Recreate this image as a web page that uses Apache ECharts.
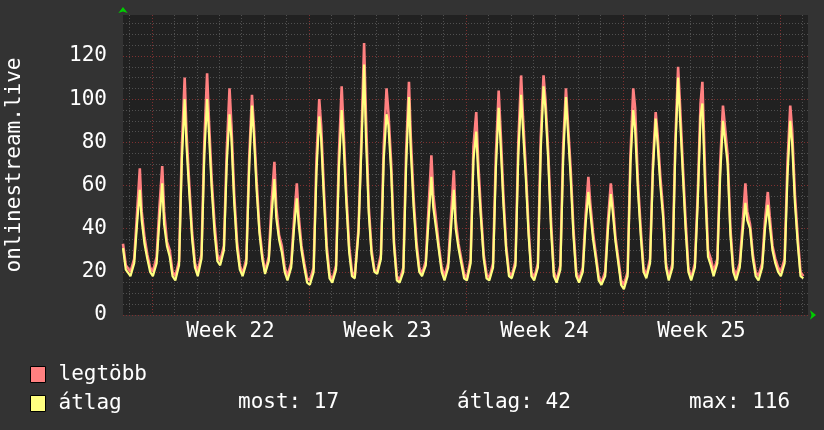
<!DOCTYPE html>
<html lang="hu">
<head>
<meta charset="UTF-8"/>
<title>onlinestream.live</title>
<script src="https://cdn.jsdelivr.net/npm/echarts@6/dist/echarts.min.js"></script>
<style>
    html, body { margin: 0; padding: 0; background: #333333; }
    #main { width: 824px; height: 430px; }
</style>
</head>
<body>
<div id="main"></div>
<script type="text/javascript">
// hours (after each day gridline) at which the values were read
var sampleHours = [1, 5, 8, 11, 13, 16, 19, 22];
// the part before the first day line
var leadHours = [-7, -4];
var leadMax = [33, 23];
var leadAvg = [31, 21];

// legtöbb, one row per day
var maxDays = [
    [20, 26, 47, 68, 48, 36, 28, 22],
    [20, 27, 50, 69, 48, 34, 30, 20],
    [18, 25, 78, 110, 84, 60, 38, 24],
    [20, 28, 80, 112, 90, 62, 42, 28],
    [25, 32, 76, 105, 88, 56, 34, 23],
    [19, 26, 72, 102, 88, 62, 40, 28],
    [20, 27, 52, 71, 50, 37, 32, 22],
    [18, 24, 44, 61, 46, 32, 24, 17],
    [16, 22, 72, 100, 88, 58, 32, 19],
    [16, 23, 74, 106, 86, 56, 32, 20],
    [18, 40, 80, 126, 92, 50, 30, 21],
    [20, 28, 78, 105, 94, 70, 34, 18],
    [16, 22, 76, 108, 82, 54, 34, 22],
    [19, 25, 50, 74, 56, 44, 32, 22],
    [18, 24, 46, 67, 44, 33, 26, 19],
    [17, 26, 78, 94, 72, 48, 28, 19],
    [17, 24, 74, 104, 86, 56, 32, 20],
    [18, 25, 80, 111, 92, 68, 40, 20],
    [17, 24, 82, 111, 100, 76, 44, 20],
    [16, 23, 78, 105, 90, 68, 40, 20],
    [16, 22, 46, 64, 52, 38, 28, 18],
    [15, 20, 44, 61, 52, 36, 26, 16],
    [14, 20, 74, 105, 96, 62, 40, 22],
    [18, 26, 70, 94, 84, 64, 48, 24],
    [17, 24, 80, 115, 98, 70, 44, 22],
    [17, 24, 56, 98, 108, 64, 30, 26],
    [20, 26, 70, 97, 88, 74, 40, 22],
    [18, 24, 42, 61, 48, 42, 28, 20],
    [18, 24, 44, 57, 46, 32, 26, 22],
    [20, 26, 70, 97, 86, 56, 36, 20],
    [18]
];

// átlag, one row per day
var avgDays = [
    [18, 24, 42, 58, 44, 33, 26, 20],
    [18, 24, 44, 61, 42, 32, 27, 18],
    [16, 23, 72, 100, 78, 56, 35, 22],
    [18, 26, 74, 100, 84, 58, 38, 25],
    [23, 30, 70, 93, 82, 52, 31, 21],
    [18, 24, 68, 97, 84, 58, 38, 26],
    [19, 25, 46, 63, 45, 35, 29, 20],
    [16, 22, 40, 54, 42, 30, 22, 15],
    [14, 20, 66, 92, 82, 54, 29, 17],
    [15, 21, 68, 95, 80, 52, 29, 18],
    [17, 38, 76, 116, 82, 47, 28, 20],
    [19, 26, 72, 93, 88, 66, 32, 16],
    [15, 20, 70, 101, 76, 50, 31, 20],
    [18, 23, 44, 64, 50, 40, 30, 20],
    [16, 22, 40, 58, 40, 31, 24, 17],
    [16, 24, 72, 85, 66, 45, 26, 17],
    [16, 22, 68, 96, 80, 52, 30, 18],
    [17, 23, 74, 102, 86, 64, 37, 18],
    [16, 22, 76, 106, 96, 72, 40, 18],
    [15, 21, 72, 101, 86, 64, 37, 18],
    [15, 20, 42, 57, 48, 35, 26, 16],
    [14, 18, 40, 56, 48, 34, 24, 14],
    [12, 18, 70, 95, 86, 58, 37, 20],
    [17, 24, 66, 91, 80, 60, 45, 22],
    [16, 22, 76, 110, 92, 66, 40, 20],
    [16, 22, 52, 92, 98, 58, 27, 23],
    [18, 24, 64, 90, 82, 70, 37, 20],
    [16, 22, 38, 52, 44, 40, 26, 18],
    [16, 22, 40, 51, 42, 30, 24, 20],
    [18, 24, 64, 90, 80, 52, 33, 18],
    [17]
];

var weekNames = ['Week 22', 'Week 23', 'Week 24', 'Week 25'];
var stats = ['most: 17', 'átlag: 42', 'max: 116'];
var statsLeft = [233, 452, 684];

var firstHour = -7, lastHour = 726;
var weekLabelHour = 108;   // middle of the first full week

// hourly categories
var hours = [];
for (var h = firstHour; h <= lastHour; h++) hours.push(String(h));

function buildSeries(lead, days) {
    var out = [];
    for (var i = 0; i < leadHours.length; i++) {
        out.push([leadHours[i] - firstHour, lead[i]]);
    }
    for (var d = 0; d < days.length; d++) {
        for (var j = 0; j < days[d].length; j++) {
            out.push([d * 24 + sampleHours[j] - firstHour, days[d][j]]);
        }
    }
    return out;
}

var FONT = "'DejaVu Sans Mono', monospace";
var GRAY = '#505050', RED = '#7e3030';

var myChart = echarts.init(document.getElementById('main'));

var option = {
    backgroundColor: '#333333',
    animation: false,
    grid: {
        left: 123, right: 16, top: 15, bottom: 115,
        outerBoundsMode: 'none',
        show: true, backgroundColor: '#212121', borderWidth: 0
    },
    title: stats.map(function (s, i) {
        return {
            text: s, left: statsLeft[i], top: 387,
            textStyle: { color: '#ffffff', fontFamily: FONT, fontSize: 21, fontWeight: 'normal' }
        };
    }),
    legend: {
        data: ['legtöbb', 'átlag'],
        orient: 'vertical',
        left: 25, top: 359,
        icon: 'rect',
        itemWidth: 15, itemHeight: 16, itemGap: 8,
        itemStyle: { borderColor: '#000000', borderWidth: 1 },
        textStyle: { color: '#ffffff', fontFamily: FONT, fontSize: 21, padding: [0, 0, 0, 8] },
        selectedMode: false
    },
    xAxis: {
        type: 'category',
        data: hours,
        boundaryGap: false,
        axisLine: {
            show: true,
            symbol: ['none', 'arrow'], symbolSize: [7, 6], symbolOffset: [0, 8],
            lineStyle: { color: '#00cc00', width: 0 }
        },
        axisTick: { show: false },
        axisLabel: {
            interval: function (idx, val) {
                var n = Number(val) - weekLabelHour;
                return n >= 0 && n % 168 === 0;
            },
            formatter: function (val) {
                return weekNames[(Number(val) - weekLabelHour) / 168];
            },
            color: '#ffffff', fontFamily: FONT, fontSize: 21, margin: 6
        },
        splitLine: {
            show: true,
            interval: function (idx, val) { return Number(val) % 24 === 0; },
            lineStyle: { color: [GRAY, RED, GRAY, GRAY, GRAY, GRAY, GRAY], type: [1, 2], width: 1 }
        }
    },
    yAxis: {
        type: 'value',
        min: 0, max: 139, interval: 5,
        name: 'onlinestream.live',
        nameLocation: 'middle', nameRotate: 90, nameGap: 98,
        nameTextStyle: { color: '#ffffff', fontFamily: FONT, fontSize: 21 },
        axisLine: {
            show: true,
            symbol: ['none', 'arrow'], symbolSize: [7, 6], symbolOffset: [0, 8],
            lineStyle: { color: '#00cc00', width: 0 }
        },
        axisTick: { show: false },
        axisLabel: {
            showMaxLabel: false,
            formatter: function (v) { return v % 20 === 0 ? String(v) : ''; },
            color: '#ffffff', fontFamily: FONT, fontSize: 21, margin: 16,
            padding: [8, 0, 0, 0]
        },
        splitLine: {
            show: true, showMaxLine: false,
            lineStyle: { color: [RED, GRAY, GRAY, GRAY], type: [1, 2], width: 1 }
        }
    },
    series: [
        {
            name: 'legtöbb',
            type: 'line',
            data: buildSeries(leadMax, maxDays),
            showSymbol: false,
            color: '#ff8080',
            lineStyle: { width: 2.6 }
        },
        {
            name: 'átlag',
            type: 'line',
            data: buildSeries(leadAvg, avgDays),
            showSymbol: false,
            color: '#ffff80',
            lineStyle: { width: 2.2 }
        }
    ]
};

myChart.setOption(option);
</script>
</body>
</html>
